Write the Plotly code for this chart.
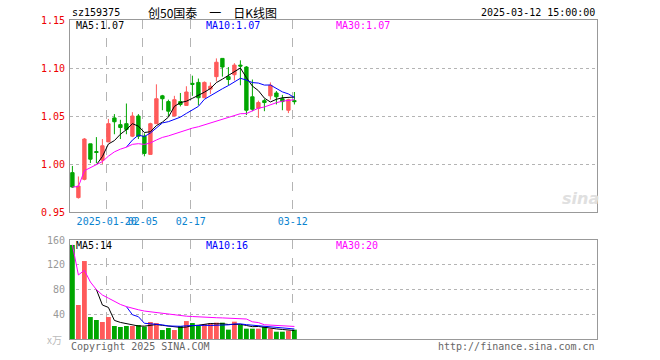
import plotly.graph_objects as go
import pandas as pd

# ---------------- data ----------------
dates = ["2025-01-10", "2025-01-13", "2025-01-14", "2025-01-15", "2025-01-16", "2025-01-17",
         "2025-01-20", "2025-01-21", "2025-01-22", "2025-01-23", "2025-01-24", "2025-01-27",
         "2025-02-05", "2025-02-06", "2025-02-07", "2025-02-10", "2025-02-11", "2025-02-12",
         "2025-02-13", "2025-02-14", "2025-02-17", "2025-02-18", "2025-02-19", "2025-02-20",
         "2025-02-21", "2025-02-24", "2025-02-25", "2025-02-26", "2025-02-27", "2025-02-28",
         "2025-03-03", "2025-03-04", "2025-03-05", "2025-03-06", "2025-03-07", "2025-03-10",
         "2025-03-11", "2025-03-12"]
opens = [0.991, 0.965, 0.984, 1.021, 1.013, 1.004, 1.023, 1.048, 1.041, 1.042, 1.029, 1.050,
         1.029, 1.010, 1.042, 1.071, 1.065, 1.050, 1.065, 1.061, 1.084, 1.085, 1.069, 1.078,
         1.091, 1.110, 1.091, 1.093, 1.103, 1.101, 1.070, 1.058, 1.066, 1.071, 1.074, 1.068,
         1.056, 1.066]
highs = [0.998, 0.987, 1.027, 1.021, 1.028, 1.026, 1.047, 1.052, 1.046, 1.063, 1.054, 1.052,
         1.032, 1.043, 1.083, 1.072, 1.067, 1.071, 1.074, 1.081, 1.092, 1.089, 1.086, 1.085,
         1.110, 1.110, 1.101, 1.105, 1.108, 1.102, 1.088, 1.066, 1.068, 1.085, 1.076, 1.072,
         1.068, 1.075]
lows = [0.975, 0.964, 0.983, 1.001, 1.001, 1.000, 1.023, 1.031, 1.026, 1.031, 1.028, 1.026,
        1.008, 1.010, 1.042, 1.056, 1.050, 1.050, 1.060, 1.061, 1.071, 1.061, 1.069, 1.073,
        1.086, 1.091, 1.082, 1.087, 1.082, 1.051, 1.055, 1.048, 1.055, 1.067, 1.062, 1.056,
        1.053, 1.062]
closes = [0.976, 0.977, 1.026, 1.005, 1.012, 1.019, 1.042, 1.044, 1.038, 1.036, 1.050, 1.029,
          1.011, 1.042, 1.068, 1.068, 1.055, 1.067, 1.062, 1.075, 1.083, 1.069, 1.085, 1.081,
          1.106, 1.101, 1.088, 1.103, 1.102, 1.056, 1.057, 1.064, 1.064, 1.082, 1.070, 1.065,
          1.067, 1.065]
volumes = [152, 55, 126, 35.5, 30.7, 27.5, 35.5, 21, 19.4, 21, 21, 22.6,
           20, 27.5, 25.8, 14.5, 17.8, 14.5, 21, 29, 25.8, 21, 24.2, 25.3,
           26.4, 26.4, 15.1, 28, 23.1, 16.7, 16.7, 16.7, 19.9, 16.7, 11.8, 11.8,
           13.5, 15.1]
tick_dates = ["2025-01-20", "2025-02-05", "2025-02-17", "2025-03-12"]
tick_text = ["2025-01-20", "02-05", "02-17", "03-12"]
price_ticks = [0.95, 1.00, 1.05, 1.10, 1.15]
vol_ticks = [40, 80, 120, 160]

# ---------------- derived ----------------
idx = list(range(len(dates)))
cs = pd.Series(closes)
vs = pd.Series(volumes)
ma5 = cs.rolling(5).mean()
ma10 = cs.rolling(10).mean()
ma30 = cs.rolling(30, min_periods=1).mean()
vma5 = vs.rolling(5).mean()
vma10 = vs.rolling(10).mean()
vma30 = vs.rolling(30, min_periods=1).mean()

RED = "#ff5a5a"
GREEN = "#00a600"
MONO = "DejaVu Sans Mono"
vol_colors = [RED if c >= o else GREEN for o, c in zip(opens, closes)]
tickpos = [dates.index(d) - 0.28 for d in tick_dates]

# pixel geometry helpers (plot area: x 70..597, y 20..339)
L, R, T, B = 70, 597, 20, 339
def px(x):
    return (x - L) / (R - L)
def py(y):
    return (B - y) / (B - T)

fig = go.Figure()
fig.add_trace(go.Candlestick(
    x=idx, open=opens, high=highs, low=lows, close=closes,
    increasing=dict(line=dict(color=RED, width=1), fillcolor=RED),
    decreasing=dict(line=dict(color=GREEN, width=1), fillcolor=GREEN),
    whiskerwidth=0, xaxis="x", yaxis="y", showlegend=False))
for s, col in [(ma5, "black"), (ma10, "#0000ff"), (ma30, "#ff00ff")]:
    fig.add_trace(go.Scatter(x=idx, y=s, mode="lines", line=dict(color=col, width=1),
                             xaxis="x", yaxis="y", showlegend=False))
fig.add_trace(go.Bar(x=idx, y=volumes, marker=dict(color=vol_colors, line=dict(width=0)),
                     width=0.8, xaxis="x2", yaxis="y2", showlegend=False))
for s, col in [(vma5, "black"), (vma10, "#0000ff"), (vma30, "#ff00ff")]:
    fig.add_trace(go.Scatter(x=idx, y=s, mode="lines", line=dict(color=col, width=1),
                             xaxis="x2", yaxis="y2", showlegend=False))

xr = [-0.4, -0.4 + (R - L) / 6.0]
grid = "#b4b4b4"
common_x = dict(range=xr, tickvals=tickpos, showgrid=True, griddash="dash", gridcolor=grid,
                gridwidth=1, showline=True, mirror=True, linecolor="#999", linewidth=1,
                ticks="", zeroline=False, fixedrange=True, automargin=False, tickangle=0)
common_y = dict(showgrid=True, griddash="dot", gridcolor=grid, showline=True, mirror=True,
                linecolor="#999", linewidth=1, ticks="", zeroline=False, fixedrange=True,
                automargin=False, ticklabelstandoff=2)
fig.update_layout(
    width=660, height=360, margin=dict(l=L, r=660 - R, t=T, b=360 - B),
    paper_bgcolor="white", plot_bgcolor="white", boxgap=0.2, bargap=0.2,
    font=dict(family=MONO, size=10),
    xaxis=dict(domain=[0, 1], anchor="y", ticktext=tick_text,
               tickfont=dict(color="#0a84d0", size=10, family=MONO),
               rangeslider=dict(visible=False), **common_x),
    xaxis2=dict(domain=[0, 1], anchor="y2", showticklabels=False, **common_x),
    yaxis=dict(domain=[py(212), 1], range=[0.95, 1.15], tickvals=price_ticks,
               ticktext=["%.2f" % v for v in price_ticks],
               tickfont=dict(color="#ee0000", size=10), **common_y),
    yaxis2=dict(domain=[0, py(240)], range=[0, 160], tickvals=vol_ticks,
                tickfont=dict(color="#999", size=10), **common_y),
)

def note(text, x, y, color="black", size=10, anchor="left", family=MONO):
    fig.add_annotation(text=text, x=px(x), y=py(y), xref="paper", yref="paper",
                       xanchor=anchor, yanchor="middle", showarrow=False,
                       font=dict(color=color, size=size, family=family))

note("sz159375", 70, 12.5)
note("创50国泰\u3000一\u3000日K线图", 212, 12, size=12, anchor="center",
     family="Noto Sans CJK SC")
note("2025-03-12 15:00:00", 597, 12.5, anchor="right")
note("MA5:%.2f" % ma5.iloc[-1], 74, 26)
note("MA10:%.2f" % ma10.iloc[-1], 204, 26, color="#0000ff")
note("MA30:%.2f" % ma30.iloc[-1], 334, 26, color="#ff00ff")
note("MA5:%d" % round(vma5.iloc[-1]), 74, 246)
note("MA10:%d" % round(vma10.iloc[-1]), 204, 246, color="#0000ff")
note("MA30:%d" % round(vma30.iloc[-1]), 334, 246, color="#ff00ff")
note("Copyright 2025 SINA.COM", 69, 347, color="#666")
note("http://finance.sina.com.cn", 597, 347, color="#666", anchor="right")
note("x万", 64, 339, color="#bbb", size=10, anchor="right", family="Noto Sans CJK SC")
note("<b><i>sina</i></b>", 580, 199, color="#e0e0e0", size=16, anchor="center",
     family="DejaVu Sans")

fig.write_html("out.html", config={"displayModeBar": False},
               post_script="document.body.style.margin='0';")
